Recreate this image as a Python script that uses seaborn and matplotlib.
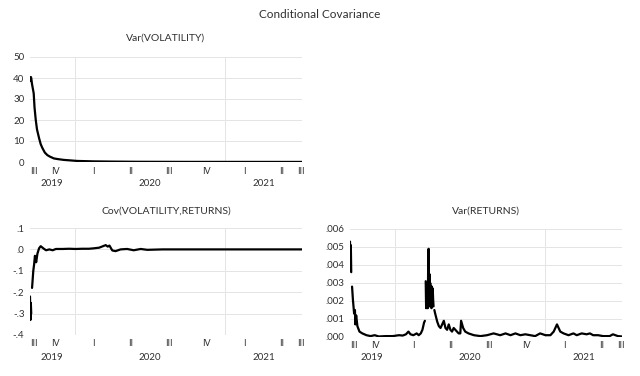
import numpy as np
import pandas as pd
import matplotlib
matplotlib.use("Agg")
import matplotlib.pyplot as plt
import seaborn as sns

nan = np.nan

# Var(VOLATILITY)
vol_dates = ["2019-09-14", "2019-09-16", "2019-09-17", "2019-09-19", "2019-09-23",
             "2019-09-25", "2019-09-28", "2019-10-01", "2019-10-06", "2019-10-10",
             "2019-10-14", "2019-10-20", "2019-10-26", "2019-11-01", "2019-11-11",
             "2019-11-20", "2019-12-05", "2020-01-07", "2020-02-15", "2020-03-28",
             "2020-06-01", "2020-10-01", "2021-03-01", "2021-07-06"]
vol_vals = [38.5, 40.5, 40.0, 37.0, 32.7,
            26.0, 20.0, 15.5, 11.4, 8.5,
            6.7, 4.5, 3.3, 2.6, 1.7,
            1.4, 1.0, 0.5, 0.3, 0.2,
            0.1, 0.05, 0.04, 0.03]

# Cov(VOLATILITY,RETURNS)
cov_dates = ["2019-09-14", "2019-09-15", "2019-09-16", "2019-09-17", "2019-09-18",
             "2019-09-19", "2019-09-22", "2019-09-24", "2019-09-26", "2019-09-29",
             "2019-10-02", "2019-10-06", "2019-10-10", "2019-10-17", "2019-10-23",
             "2019-10-31", "2019-11-08", "2019-11-16", "2019-12-02", "2019-12-18",
             "2020-01-03", "2020-01-19", "2020-02-04", "2020-02-16", "2020-02-29",
             "2020-03-08", "2020-03-16", "2020-03-21", "2020-03-25", "2020-04-01",
             "2020-04-09", "2020-04-21", "2020-05-07", "2020-05-23", "2020-06-09",
             "2020-06-25", "2020-08-01", "2020-10-01", "2021-01-01", "2021-04-01",
             "2021-07-06"]
cov_vals = [-0.22, -0.33, -0.25, -0.30, nan,
            -0.18, -0.10, -0.07, -0.03, -0.06,
            -0.02, 0.005, 0.015, 0.004, -0.004,
            0.0, -0.004, 0.002, 0.002, 0.003,
            0.002, 0.003, 0.003, 0.005, 0.008,
            0.014, 0.020, 0.013, 0.018, -0.005,
            -0.008, 0.0, 0.002, -0.004, 0.002,
            -0.002, 0.0, 0.0, 0.0, 0.0,
            0.0]

# Var(RETURNS)
ret_dates = ["2019-09-14", "2019-09-15", "2019-09-16", "2019-09-17", "2019-09-18",
             "2019-09-19", "2019-09-21", "2019-09-24", "2019-09-26", "2019-09-27",
             "2019-09-29", "2019-10-02", "2019-10-07", "2019-10-14", "2019-10-24",
             "2019-11-03", "2019-11-13", "2019-11-23", "2019-12-10", "2019-12-27",
             "2020-01-11", "2020-01-20", "2020-01-28", "2020-02-03", "2020-02-08",
             "2020-02-15", "2020-02-23", "2020-02-28", "2020-03-04", "2020-03-08",
             "2020-03-12", "2020-03-14", "2020-03-15", "2020-03-16", "2020-03-17",
             "2020-03-18", "2020-03-19", "2020-03-20", "2020-03-21", "2020-03-22",
             "2020-03-23", "2020-03-24", "2020-03-25", "2020-03-26", "2020-03-27",
             "2020-03-28", "2020-03-29", "2020-03-30", "2020-03-31", "2020-04-01",
             "2020-04-02", "2020-04-03", "2020-04-04", "2020-04-05", "2020-04-06",
             "2020-04-08", "2020-04-13", "2020-04-17", "2020-04-21", "2020-04-29",
             "2020-05-03", "2020-05-07", "2020-05-11", "2020-05-15", "2020-05-19",
             "2020-05-23", "2020-05-31", "2020-06-04", "2020-06-08", "2020-06-10",
             "2020-06-15", "2020-06-20", "2020-06-28", "2020-07-11", "2020-07-27",
             "2020-08-12", "2020-08-28", "2020-09-13", "2020-09-26", "2020-10-08",
             "2020-10-20", "2020-11-01", "2020-11-13", "2020-11-25", "2020-12-07",
             "2020-12-19", "2021-01-01", "2021-01-13", "2021-01-21", "2021-01-29",
             "2021-02-02", "2021-02-06", "2021-02-14", "2021-02-26", "2021-03-10",
             "2021-03-18", "2021-03-30", "2021-04-11", "2021-04-19", "2021-04-27",
             "2021-05-09", "2021-05-21", "2021-06-06", "2021-06-14", "2021-06-26",
             "2021-07-06"]
ret_vals = [0.0053, 0.0037, 0.0051, 0.0036, nan,
            0.0028, 0.0021, 0.0013, 0.0015, 0.0007,
            0.0012, 0.0006, 0.0003, 0.0002, 0.0001,
            0.00005, 0.0001, 0.00003, 0.00005, 0.00005,
            0.0001, 0.00008, 0.00015, 0.0003, 0.00015,
            0.0001, 0.0002, 0.0001, 0.0002, 0.0004,
            0.0008, 0.0009, nan, 0.0031, 0.0016,
            0.0030, 0.0018, 0.0026, 0.0016, 0.0040,
            0.0049, 0.0022, 0.0035, 0.0017, 0.0030,
            0.0020, 0.0026, 0.0016, 0.0028, 0.0018,
            0.0027, 0.0021, 0.0017, nan, 0.0015,
            0.0013, 0.00085, 0.0006, 0.0005, 0.0009,
            0.0005, 0.0004, 0.0007, 0.0004, 0.0003,
            0.0005, 0.0003, 0.0002, 0.0002, 0.0009,
            0.0005, 0.0003, 0.0002, 0.0001, 0.00005,
            0.0001, 0.0002, 0.0001, 0.0002, 0.0001,
            0.0002, 0.0001, 0.00015, 0.0001, 0.00005,
            0.0002, 0.0001, 0.0001, 0.0003, 0.0007,
            0.0005, 0.0003, 0.0002, 0.0001, 0.0002,
            0.0001, 0.0002, 0.00015, 0.0002, 0.0001,
            0.0001, 0.00005, 0.00005, 0.00015, 0.00005,
            0.00003]

START = pd.Timestamp("2019-09-14")
END = pd.Timestamp("2021-07-06")
ROMAN = {1: "I", 2: "II", 3: "III", 4: "IV"}
TXT = "#303030"


def make_frame(dates, vals):
    d = pd.DataFrame({"date": pd.to_datetime(dates), "value": vals})
    # break the line where there is no value
    d["seg"] = d["value"].isna().cumsum()
    return d.dropna()


def style_axis(ax, yticks, ylabels, title, title_px, q_px, y_px):
    h = ax.get_window_extent().height
    ax.set_xlim(START, END)
    ax.set_ylim(yticks[0], yticks[-1])
    ax.set_yticks(yticks)
    ax.set_yticklabels(ylabels)
    ax.tick_params(axis="y", length=0, pad=4, labelsize=7, labelcolor=TXT)
    ax.set_xticks([])
    ax.set_xlabel("")
    ax.set_ylabel("")
    for s in ax.spines.values():
        s.set_visible(False)
    ax.grid(False)
    for t in yticks:
        ax.axhline(t, color="#e4e4e4", lw=0.7, zorder=0)
    for yr in ["2020-01-01", "2021-01-01"]:
        ax.axvline(pd.Timestamp(yr), color="#e4e4e4", lw=0.7, zorder=0)
    ax.text(0.5, 1 + title_px / h, title, transform=ax.transAxes,
            ha="center", va="center", fontsize=7.5, color=TXT)
    # quarter labels at the middle of the visible part of each quarter
    for q in pd.period_range("2019Q3", "2021Q3", freq="Q"):
        a = max(q.start_time, START)
        b = min(q.end_time, END)
        mid = a + (b - a) / 2
        ax.annotate(ROMAN[q.quarter], (mid, 0), xycoords=("data", "axes fraction"),
                    xytext=(0, -q_px), textcoords="offset pixels",
                    ha="center", va="center", fontsize=6.5, color=TXT)
    for yr in [2019, 2020, 2021]:
        a = max(pd.Timestamp(f"{yr}-01-01"), START)
        b = min(pd.Timestamp(f"{yr}-12-31"), END)
        mid = a + (b - a) / 2
        ax.annotate(str(yr), (mid, 0), xycoords=("data", "axes fraction"),
                    xytext=(0, -y_px), textcoords="offset pixels",
                    ha="center", va="center", fontsize=7, color=TXT)


sns.set_theme(style="white")
plt.rcParams["font.family"] = ["Lato", "DejaVu Sans"]

fig = plt.figure(figsize=(6.4, 3.76), dpi=100)
ax1 = fig.add_axes([30 / 640, 1 - 162 / 376, 272 / 640, 105 / 376])
ax2 = fig.add_axes([30 / 640, 1 - 335 / 376, 272 / 640, 107 / 376])
ax3 = fig.add_axes([350 / 640, 1 - 337 / 376, 272 / 640, 108 / 376])

for ax, dates, vals in [(ax1, vol_dates, vol_vals), (ax2, cov_dates, cov_vals),
                        (ax3, ret_dates, ret_vals)]:
    sns.lineplot(data=make_frame(dates, vals), x="date", y="value", units="seg",
                 estimator=None, color="black", lw=1.6, ax=ax, legend=False)

style_axis(ax1, [0, 10, 20, 30, 40, 50], ["0", "10", "20", "30", "40", "50"],
           "Var(VOLATILITY)", 19, 10, 21)
style_axis(ax2, [-0.4, -0.3, -0.2, -0.1, 0.0, 0.1], ["-.4", "-.3", "-.2", "-.1", ".0", ".1"],
           "Cov(VOLATILITY,RETURNS)", 17, 9, 22)
style_axis(ax3, [0, 0.001, 0.002, 0.003, 0.004, 0.005, 0.006],
           [".000", ".001", ".002", ".003", ".004", ".005", ".006"],
           "Var(RETURNS)", 18, 8, 21)

fig.text(0.5, 1 - 15 / 376, "Conditional Covariance", ha="center", va="center",
         fontsize=8.5, color=TXT)

fig.savefig("out.png", dpi=100)
